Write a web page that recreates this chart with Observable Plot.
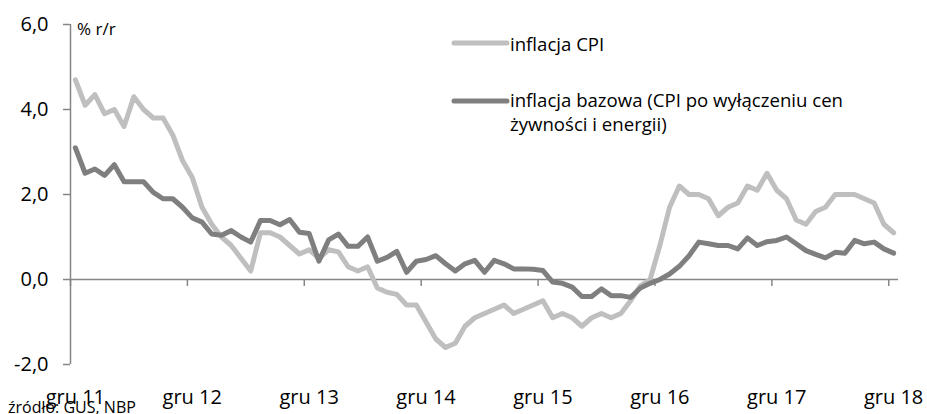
<!DOCTYPE html>
<html>
<head>
<meta charset="utf-8">
<script src="https://cdn.jsdelivr.net/npm/d3@7"></script>
<script src="https://cdn.jsdelivr.net/npm/@observablehq/plot@0.6"></script>
<style>
  html, body { margin: 0; padding: 0; background: #fff; }
  #chart svg { display: block; }
</style>
</head>
<body>
<div id="chart"></div>
<script>
// Monthly data, Dec 2011 (index 0) ... Dec 2018 (index 84), % y/y
const cpi = [
  4.7, 4.1, 4.35, 3.9, 4.0, 3.6, 4.3, 4.0, 3.8, 3.8, 3.4, 2.8,
  2.4, 1.7, 1.3, 1.0, 0.8, 0.5, 0.2, 1.1, 1.1, 1.0, 0.8, 0.6,
  0.7, 0.5, 0.7, 0.65, 0.3, 0.2, 0.3, -0.2, -0.3, -0.35, -0.6, -0.6,
  -1.0, -1.4, -1.6, -1.5, -1.1, -0.9, -0.8, -0.7, -0.6, -0.8, -0.7, -0.6,
  -0.5, -0.9, -0.8, -0.9, -1.1, -0.9, -0.8, -0.9, -0.8, -0.5, -0.15, 0.0,
  0.8, 1.7, 2.2, 2.0, 2.0, 1.9, 1.5, 1.7, 1.8, 2.2, 2.1, 2.5,
  2.1, 1.9, 1.4, 1.3, 1.6, 1.7, 2.0, 2.0, 2.0, 1.9, 1.8, 1.3,
  1.1
];
const core = [
  3.1, 2.5, 2.6, 2.45, 2.7, 2.3, 2.3, 2.3, 2.05, 1.9, 1.9, 1.7,
  1.45, 1.35, 1.07, 1.04, 1.15, 1.0, 0.88, 1.39, 1.39, 1.29, 1.41, 1.11,
  1.08, 0.43, 0.93, 1.07, 0.78, 0.78, 1.0, 0.43, 0.52, 0.66, 0.17, 0.43,
  0.47, 0.56, 0.37, 0.2, 0.37, 0.45, 0.17, 0.45, 0.37, 0.25, 0.25, 0.24,
  0.21, -0.06, -0.09, -0.18, -0.4, -0.4, -0.22, -0.38, -0.38, -0.42, -0.2, -0.09,
  0.0, 0.13, 0.31, 0.56, 0.88, 0.84, 0.8, 0.8, 0.72, 0.98, 0.8, 0.89,
  0.92, 1.0, 0.84, 0.68, 0.59, 0.51, 0.64, 0.62, 0.92, 0.84, 0.88, 0.72,
  0.62
];
const xTickLabels = ["gru 11", "gru 12", "gru 13", "gru 14", "gru 15", "gru 16", "gru 17", "gru 18"];
const yTicks = [-2, 0, 2, 4, 6];
const seriesNames = ["inflacja CPI", "inflacja bazowa (CPI po wyłączeniu cen", "żywności i energii)"];
const unitLabel = "% r/r";
const sourceLabel = "źródło: GUS, NBP";

const colorCPI = "#bfbfbf";
const colorCore = "#7f7f7f";
const axisColor = "#868686";
const font = "'Open Sans', sans-serif";

const W = 927, H = 414;
const mL = 70, mR = 29, mT = 24, mB = 50;

const toRows = (arr) => arr.map((v, i) => ({x: i + 0.5, v}));
const cpiRows = toRows(cpi);
const coreRows = toRows(core);
const boundaryTicks = xTickLabels.map((_, k) => k * 12);
const labelTicks = xTickLabels.map((_, k) => k * 12 + 0.5);
const fmt = (d) => d.toFixed(1).replace(".", ",");

const svg = Plot.plot({
  width: W,
  height: H,
  marginLeft: mL,
  marginRight: mR,
  marginTop: mT,
  marginBottom: mB,
  style: {fontFamily: font, background: "#fff", color: "#000"},
  x: {domain: [0, cpi.length], axis: null},
  y: {domain: [-2, 6], axis: null},
  marks: [
    Plot.ruleX([0], {stroke: axisColor, strokeWidth: 1.5}),
    Plot.ruleY([0], {stroke: axisColor, strokeWidth: 1.5}),
    Plot.ruleX(boundaryTicks, {x: (d) => d, y1: 0, y2: 0, insetBottom: -7, stroke: axisColor, strokeWidth: 1.5}),
    Plot.axisY({ticks: yTicks, label: null, tickSize: 7, tickPadding: 15, tickFormat: fmt, fontSize: 20, stroke: axisColor, strokeWidth: 1.5, fill: "#000"}),
    Plot.axisX({ticks: labelTicks, label: null, tickSize: 0, tickPadding: 25, tickFormat: (d) => xTickLabels[Math.round((d - 0.5) / 12)], fontSize: 20, fill: "#000"}),
    Plot.line(cpiRows, {x: "x", y: "v", stroke: colorCPI, strokeWidth: 5, strokeLinejoin: "round", strokeLinecap: "round"}),
    Plot.line(coreRows, {x: "x", y: "v", stroke: colorCore, strokeWidth: 5, strokeLinejoin: "round", strokeLinecap: "round"})
  ]
});

const s = d3.select(svg);
const extra = s.append("g").attr("font-family", font).attr("fill", "#000").attr("text-anchor", "start");
// unit label
extra.append("text").attr("x", 77).attr("y", 35).attr("font-size", 17).text(unitLabel);
// legend
const lg = extra.append("g").attr("font-size", 18.6);
lg.append("line").attr("x1", 454).attr("x2", 507).attr("y1", 43).attr("y2", 43)
  .attr("stroke", colorCPI).attr("stroke-width", 5).attr("stroke-linecap", "round");
lg.append("text").attr("x", 510).attr("y", 51).text(seriesNames[0]);
lg.append("line").attr("x1", 454).attr("x2", 507).attr("y1", 101).attr("y2", 101)
  .attr("stroke", colorCore).attr("stroke-width", 5).attr("stroke-linecap", "round");
lg.append("text").attr("x", 510).attr("y", 107).text(seriesNames[1]);
lg.append("text").attr("x", 510).attr("y", 131).text(seriesNames[2]);
// source
extra.append("text").attr("x", 8).attr("y", 413).attr("font-size", 16).text(sourceLabel);

document.getElementById("chart").appendChild(svg);
</script>
</body>
</html>
